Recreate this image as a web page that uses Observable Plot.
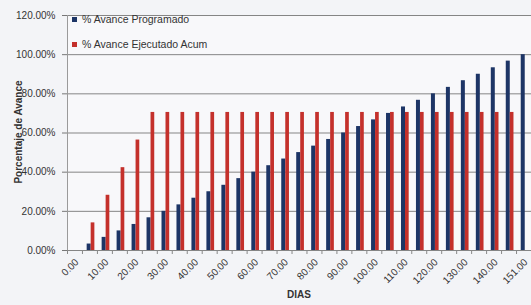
<!DOCTYPE html>
<html><head><meta charset="utf-8">
<script src="https://cdn.jsdelivr.net/npm/d3@7"></script>
<script src="https://cdn.jsdelivr.net/npm/@observablehq/plot@0.6"></script>
<style>
html,body{margin:0;padding:0}
body{background:#f3f4f7;width:531px;height:305px;overflow:hidden;position:relative;font-family:"Liberation Sans",Arial,sans-serif}
#chart{position:absolute;left:0;top:0}
#legend{position:absolute;left:72px;top:13px;font-size:10.5px;color:#333}
#legend .row{display:flex;align-items:center;height:12px;margin-bottom:13px}
#legend .sw{width:5px;height:5px;margin-right:5px}
#ytitle{position:absolute;left:18px;top:132px;transform:translate(-50%,-50%) rotate(-90deg);font-size:10px;font-weight:bold;color:#333;white-space:nowrap}
#xtitle{position:absolute;left:299px;top:294px;transform:translate(-50%,-50%);font-size:10px;font-weight:bold;color:#333}
</style></head><body>
<div id="chart"></div>
<div id="legend"></div>
<div id="ytitle">Porcentaje de Avance</div>
<div id="xtitle">DIAS</div>
<script>
// Categories (days)
const dias = [0,5,10,15,20,25,30,35,40,45,50,55,60,65,70,75,80,85,90,95,100,105,110,115,120,125,130,135,140,145,151];
// Labelled categories on the axis
const diasEtiquetas = [0,10,20,30,40,50,60,70,80,90,100,110,120,130,140,151];
// % Avance Programado
const programado = [0,3.3,6.7,10.0,13.3,16.7,20.0,23.3,26.7,30.0,33.3,36.7,40.0,43.3,46.7,50.0,53.3,56.7,60.0,63.3,66.7,70.0,73.3,76.7,80.0,83.3,86.7,90.0,93.3,96.7,100.0];
// % Avance Ejecutado Acum
const ejecutado = [0,14.1,28.2,42.3,56.4,70.5,70.5,70.5,70.5,70.5,70.5,70.5,70.5,70.5,70.5,70.5,70.5,70.5,70.5,70.5,70.5,70.5,70.5,70.5,70.5,70.5,70.5,70.5,70.5,70.5,null];
const yTicks = [0,20,40,60,80,100,120];
const series = [
  {name:"% Avance Programado", color:"#1d3566"},
  {name:"% Avance Ejecutado Acum", color:"#c4302b"}
];

const rows = dias.map((d,i)=>({dia:d, prog:programado[i], ejec:ejecutado[i]}));

const W = 531, H = 305, mL = 67, mR = 0, mT = 15, mB = 55;
const bw = (W - mL - mR) / dias.length;

const chart = Plot.plot({
  width: W, height: H,
  marginLeft: mL, marginRight: mR, marginTop: mT, marginBottom: mB,
  style: {fontFamily: '"Liberation Sans", Arial, sans-serif', fontSize: "10px", background: "transparent", color: "#333", overflow: "visible"},
  x: {type: "band", domain: dias, padding: 0, paddingOuter: 0, round: false, align: 0.5},
  y: {domain: [0,120]},
  marks: [
    Plot.frame({fill: "#f8f8fa", stroke: null}),
    Plot.gridY(yTicks, {stroke: "#858585", strokeOpacity: 1, strokeWidth: 1}),
    Plot.frame({anchor: "left", stroke: "#9a9a9a"}),
    Plot.axisY({ticks: yTicks, tickSize: 5, tickPadding: 7, tickFormat: d => d.toFixed(2) + "%", label: null, stroke: "#777", fill: "#333", fontSize: 10}),
    Plot.axisX({ticks: dias, tickSize: 4, tickFormat: () => "", dx: -bw/2, label: null, stroke: "#888"}),
    Plot.axisX({ticks: diasEtiquetas, tickSize: 0, tickPadding: 10, tickRotate: -45, tickFormat: d => d.toFixed(2), dx: 2, label: null, fill: "#333", fontSize: 10}),
    Plot.barY(rows, {x: "dia", y: "prog", fill: series[0].color, insetLeft: 4.7, insetRight: bw - 8.7}),
    Plot.barY(rows.filter(r => r.ejec != null), {x: "dia", y: "ejec", fill: series[1].color, insetLeft: 8.7, insetRight: bw - 12.4})
  ]
});
document.getElementById("chart").appendChild(chart);

const leg = document.getElementById("legend");
for (const s of series) {
  const row = document.createElement("div");
  row.className = "row";
  const sw = document.createElement("div");
  sw.className = "sw"; sw.style.background = s.color;
  const t = document.createElement("span");
  t.textContent = s.name;
  row.appendChild(sw); row.appendChild(t);
  leg.appendChild(row);
}
</script>
</body></html>
